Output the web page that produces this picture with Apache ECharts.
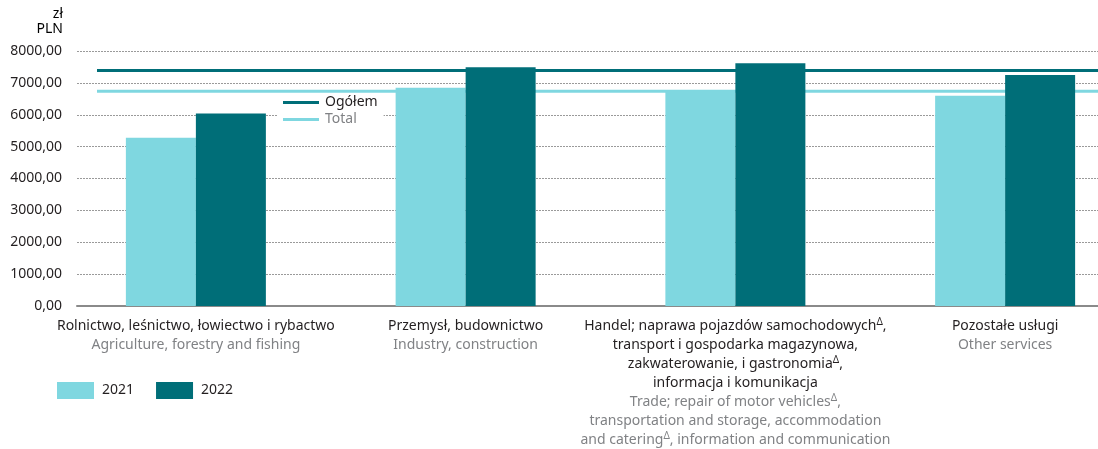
<!DOCTYPE html>
<html>
<head>
<meta charset="utf-8">
<script src="https://cdn.jsdelivr.net/npm/echarts@6/dist/echarts.min.js"></script>
<style>
    html, body { margin: 0; padding: 0; background: #fff; }
    #chart { width: 1098px; height: 449px; }
</style>
</head>
<body>
<div id="chart"></div>
<script>
    // dane
    var categoriesPl = [
        'Rolnictwo, leśnictwo, łowiectwo i rybactwo',
        'Przemysł, budownictwo',
        'Handel; naprawa pojazdów samochodowychΔ,\ntransport i gospodarka magazynowa,\nzakwaterowanie, i gastronomiaΔ,\ninformacja i komunikacja',
        'Pozostałe usługi'
    ];
    var categoriesEn = [
        'Agriculture, forestry and fishing',
        'Industry, construction',
        'Trade; repair of motor vehiclesΔ,\ntransportation and storage, accommodation\nand cateringΔ, information and communication',
        'Other services'
    ];
    var years = ['2021', '2022'];
    var values2021 = [5277, 6847, 6775, 6595];
    var values2022 = [6043, 7487, 7613, 7245];
    var totalNames = ['Ogółem', 'Total'];
    var total2022 = 7387;
    var total2021 = 6734;
    var yTicks = [0, 1000, 2000, 3000, 4000, 5000, 6000, 7000, 8000];

    var light = '#7fd7e0';
    var dark = '#006e78';
    var black = '#231f20';
    var grey = '#808285';
    var font = 'Noto Sans';

    function lineMarkup(line, style, sup) {
        // Δ jako indeks górny
        return line.split('Δ').map(function (part) {
            return part ? '{' + style + '|' + part + '}' : '';
        }).join('{' + sup + '|Δ}');
    }
    function catLabel(value, idx) {
        var pl = categoriesPl[idx].split('\n').map(function (l) { return lineMarkup(l, 'pl', 'supPl'); });
        var en = categoriesEn[idx].split('\n').map(function (l) { return lineMarkup(l, 'en', 'supEn'); });
        return pl.concat(en).join('\n');
    }

    var myChart = echarts.init(document.getElementById('chart'));
    myChart.setOption({
        animation: false,
        textStyle: { fontFamily: font },
        grid: [
            { left: 77, right: 0, top: 51, bottom: 143, outerBoundsMode: 'none' },
            { left: 61, width: 1079, top: 51, bottom: 143, outerBoundsMode: 'none' },
            { left: 97, right: 0, top: 51, bottom: 143, outerBoundsMode: 'none' }
        ],
        xAxis: [
            {
                gridIndex: 0, type: 'category', data: categoriesPl,
                axisLine: { lineStyle: { color: '#8a8a8a', width: 2 } },
                axisTick: { show: false }, axisLabel: { show: false }
            },
            {
                gridIndex: 1, type: 'category', data: categoriesPl,
                axisLine: { show: false }, axisTick: { show: false },
                axisLabel: {
                    interval: 0, margin: 11,
                    formatter: catLabel,
                    rich: {
                        pl: { color: black, fontSize: 14, lineHeight: 19, fontFamily: font },
                        en: { color: grey, fontSize: 14, lineHeight: 19, fontFamily: font },
                        supPl: { color: black, fontSize: 10, lineHeight: 10, verticalAlign: 'top', fontFamily: font },
                        supEn: { color: grey, fontSize: 10, lineHeight: 10, verticalAlign: 'top', fontFamily: font }
                    }
                }
            },
            {
                gridIndex: 2, type: 'category', data: ['a', 'b'], boundaryGap: false, show: false
            }
        ],
        yAxis: [
            {
                gridIndex: 0, type: 'value', min: yTicks[0], max: yTicks[yTicks.length - 1], interval: 1000,
                axisLine: { show: false }, axisTick: { show: false },
                axisLabel: {
                    margin: 15, color: black, fontSize: 14, fontFamily: font,
                    formatter: function (v) { return v.toFixed(2).replace('.', ','); }
                },
                splitLine: { lineStyle: { color: '#9a9a9a', type: [2, 1], width: 1 } }
            },
            { gridIndex: 1, type: 'value', min: 0, max: 8000, show: false, splitLine: { show: false } },
            { gridIndex: 2, type: 'value', min: 0, max: 8000, show: false, splitLine: { show: false } }
        ],
        legend: [
            {
                data: years,
                left: 57, top: 382, orient: 'horizontal', padding: 0,
                icon: 'rect', itemWidth: 37, itemHeight: 17, itemGap: 22,
                textStyle: { color: black, fontSize: 14, fontFamily: font, padding: [5, 0, 0, 3] }
            },
            {
                data: [
                    { name: totalNames[0], textStyle: { color: black } },
                    { name: totalNames[1], textStyle: { color: grey } }
                ],
                left: 277, top: 93, orient: 'vertical', z: 1,
                icon: 'rect', itemWidth: 36, itemHeight: 3, itemGap: 0,
                padding: [1, 6, 2, 6],
                backgroundColor: '#fff',
                textStyle: { fontSize: 14, lineHeight: 17, fontFamily: font, padding: [0, 0, 0, 1] }
            }
        ],
        graphic: [
            {
                type: 'text', right: 1098 - 63, top: 7,
                style: {
                    text: '{a|zł}\n{b|PLN}', align: 'right',
                    rich: {
                        a: { fontSize: 14, lineHeight: 15, color: black, fontFamily: font, align: 'right' },
                        b: { fontSize: 14, lineHeight: 15, color: grey, fontFamily: font, align: 'right' }
                    }
                }
            }
        ],
        series: [
            {
                name: years[0], type: 'bar', xAxisIndex: 1, yAxisIndex: 1,
                data: values2021, barWidth: 70, barGap: '0%', z: 3,
                itemStyle: { color: light }
            },
            {
                name: years[1], type: 'bar', xAxisIndex: 1, yAxisIndex: 1,
                data: values2022, barWidth: 70, barGap: '0%', z: 3,
                itemStyle: { color: dark }
            },
            {
                name: totalNames[0], type: 'line', xAxisIndex: 2, yAxisIndex: 2,
                data: [total2022, total2022], symbol: 'none', z: 2,
                lineStyle: { color: dark, width: 3 }, itemStyle: { color: dark }
            },
            {
                name: totalNames[1], type: 'line', xAxisIndex: 2, yAxisIndex: 2,
                data: [total2021, total2021], symbol: 'none', z: 2,
                lineStyle: { color: light, width: 3 }, itemStyle: { color: light }
            }
        ]
    });
</script>
</body>
</html>
